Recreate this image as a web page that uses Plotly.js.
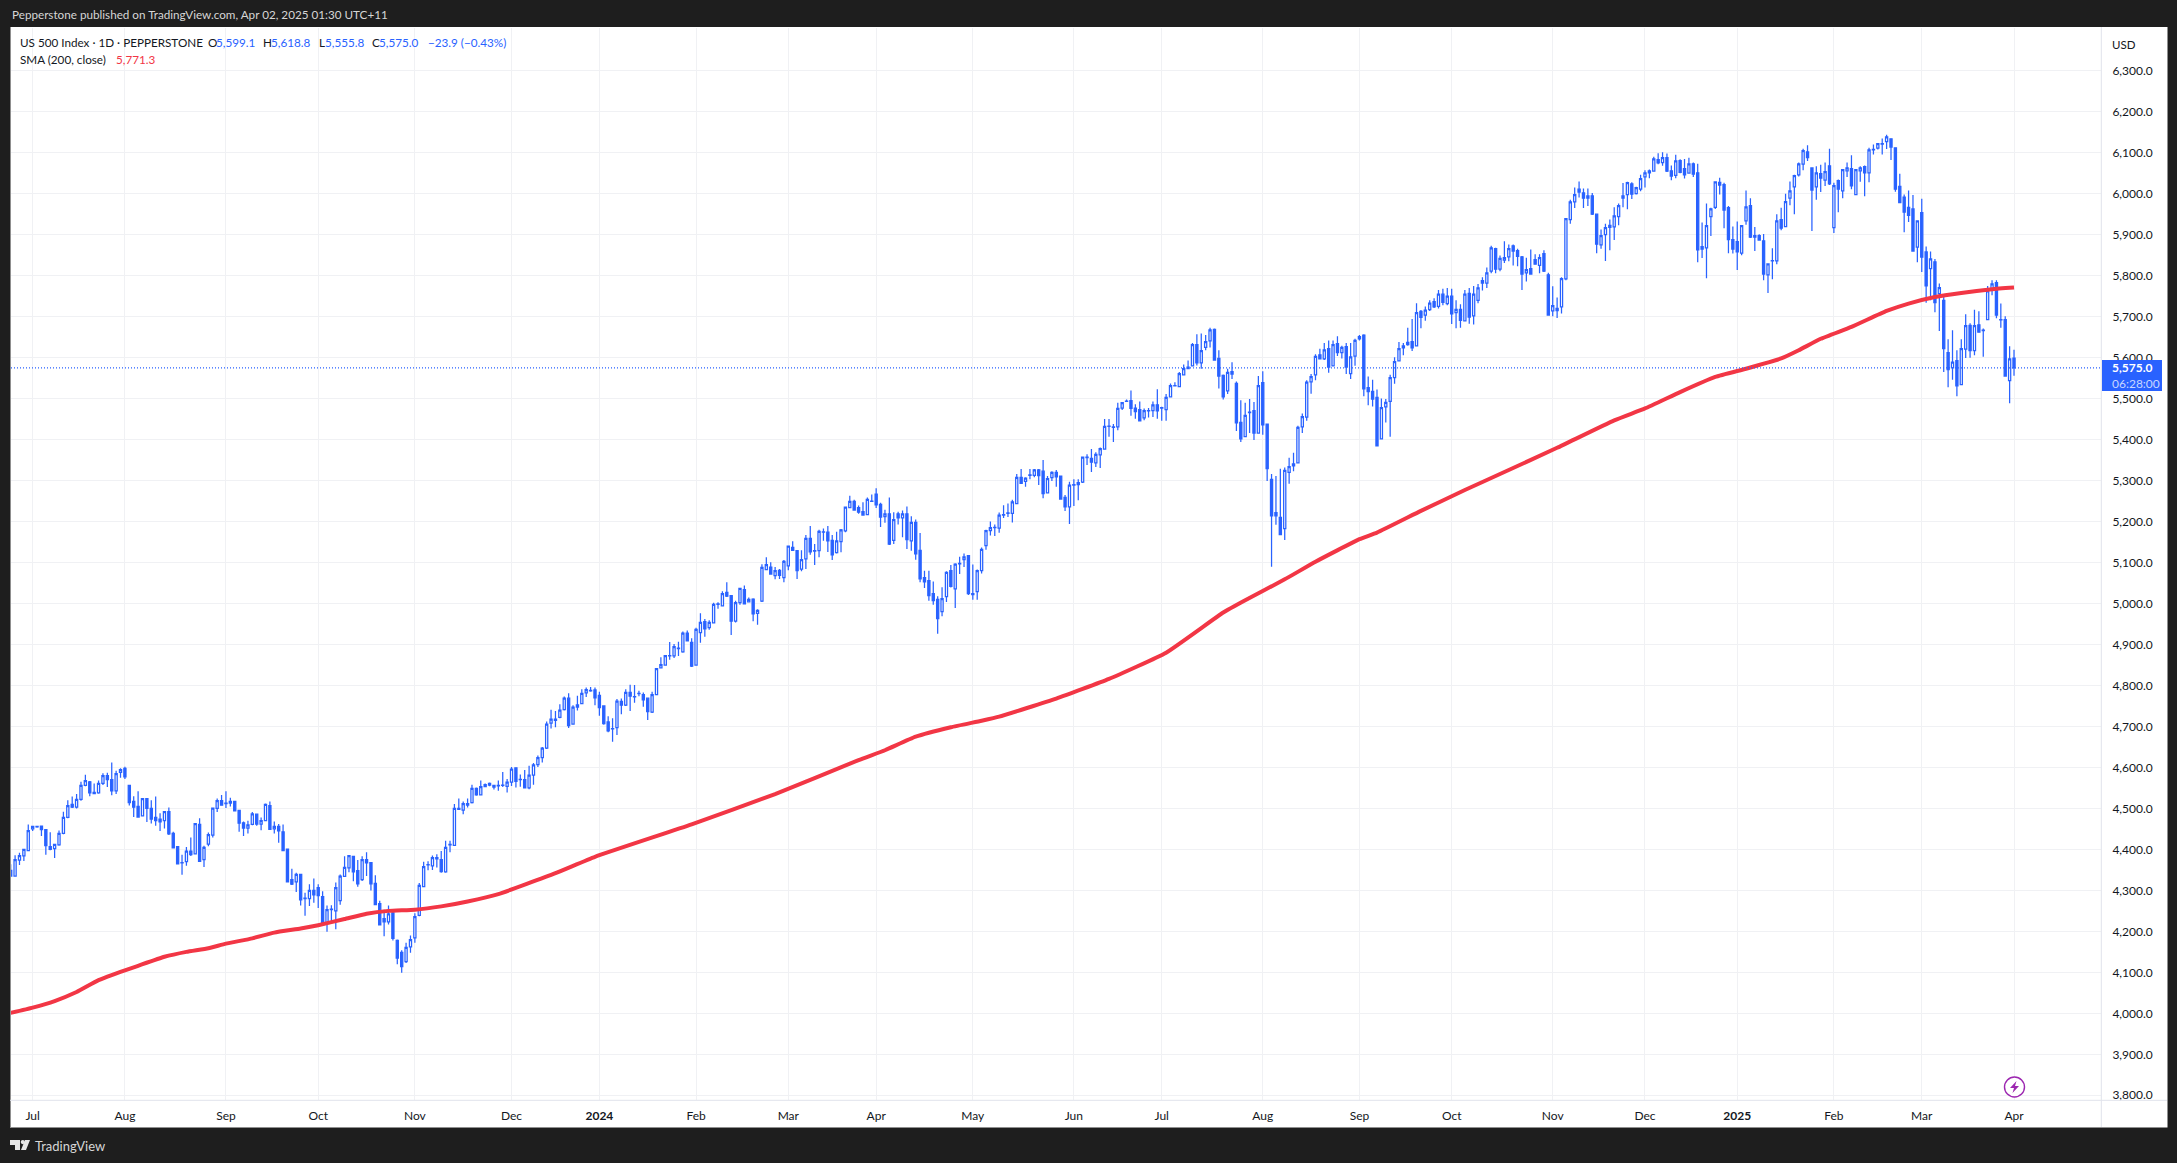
<!DOCTYPE html>
<html>
<head>
<meta charset="utf-8">
<script src="https://cdn.plot.ly/plotly-3.0.1.min.js"></script>
<style>html,body{margin:0;padding:0;background:#1e1e1e;overflow:hidden}#chart{width:2177px;height:1163px}</style>
</head>
<body>
<div id="chart"></div>
<script>
const opens = [4349,4335,4374,4384,4397,4450,4455,4457,4448,4407,
4402,4411,4439,4478,4510,4503,4522,4556,4565,4539,
4538,4561,4580,4570,4543,4588,4598,4556,4517,4505,
4482,4524,4500,4478,4474,4470,4492,4439,4407,4367,
4370,4396,4389,4461,4375,4413,4435,4500,4519,4512,
4517,4517,4495,4465,4452,4461,4486,4462,4470,4507,
4450,4456,4443,4401,4326,4321,4339,4280,4280,4300,
4307,4285,4221,4253,4250,4275,4334,4355,4383,4348,
4326,4375,4368,4317,4268,4231,4223,4245,4178,4149,
4126,4162,4184,4239,4309,4362,4360,4380,4375,4345,
4411,4410,4498,4496,4508,4514,4549,4533,4553,4561,
4556,4555,
4556,4554,4564,4599,4570,4570,4550,4581,4607,4624,4647,4708,4718,4722,4741,4769,4706,4747,
4756,4782,4787,4789,4776,4750,4711,4694,4697,4761,
4752,4783,4772,4780,4778,4769,4735,4778,4843,4850,
4872,4872,4890,4882,4928,4905,4850,4929,4956,4941,
4953,4998,4994,5027,5019,4957,5002,5034,5004,5011,
4976,5006,5083,5089,5068,5081,5063,5092,5137,5129,
5084,5109,5159,5128,5129,5174,5174,5154,5124,5151,
5177,5234,5249,5234,5224,5217,5249,5267,5242,5212,
5219,5154,5219,5209,5219,5153,5198,5130,5063,5056,
5024,5010,4980,5017,5080,5036,5097,5107,5117,5024,
5029,5080,5141,5178,5185,
5184,5216,5220,5220,5244,5308,5298,5313,5313,5326,
5323,5270,5307,5320,5311,5259,5236,5289,5290,5296,
5356,5354,5343,5363,5377,5432,5430,5431,5477,5493,
5495,5477,5473,5453,5470,5471,5485,5477,5473,5504,
5531,5529,5558,5573,5580,5632,5587,5625,5641,5669,
5598,5557,5519,5566,5537,5442,5407,5466,5471,5416,
5539,5438,5303,5222,5210,5183,5320,5336,5343,5431,
5455,5541,5558,5607,5597,5622,5580,5634,5612,5627,
5561,5604,5646,5655,5527,5518,5503,5402,5480,5493,
5551,5592,5624,5632,5639,5629,5713,5704,5717,5737,
5725,5755,5732,5750,5710,5718,5690,5757,5702,5740,
5788,5782,5811,5866,5816,5838,5846,5873,5861,5846,
5807,5817,5839,5825,5854,5802,5714,5720,5724,5792,
5937,5980,6011,6002,5989,5995,5950,5875,5900,5923,
5919,5944,5989,5998,6024,6000,6011,6041,6051,6055,
6083,6076,6088,6056,6045,6081,6061,6050,6073,6051,
5871,5868,5944,5967,6028,6022,5966,5888,5883,5855,
5934,5971,5898,5898,5885,5802,5836,5836,
5937,5920,5989,6017,6046,6072,6102,6063,6017,6049,
6033,6068,5917,6032,6007,6056,6061,5998,6056,6066,
6051,6107,6111,6121,6127,6134,6112,6018,5992,5967,
5963,5870,5954,5858,5817,5834,5756,5740,5612,5575,
5593,5534,5621,5679,5617,5680,5666,5693,5765,5783,
5692,5693,5544,5599];

const highs = [4364,4386,4392,4401,4461,4458,4458,4458,4450,4442,
4414,4446,4492,4520,4529,4535,4565,4582,4567,4561,
4568,4586,4587,4612,4592,4598,4602,4557,4530,4542,
4525,4525,4520,4529,4488,4493,4502,4443,4408,4387,
4406,4429,4464,4476,4409,4441,4502,4524,4533,4542,
4526,4518,4497,4468,4470,4491,4487,4478,4512,4517,
4468,4462,4461,4402,4353,4343,4340,4294,4315,4329,
4315,4298,4263,4264,4319,4339,4383,4386,4384,4374,
4383,4393,4369,4337,4275,4253,4263,4249,4180,4154,
4172,4190,4244,4318,4370,4371,4385,4388,4396,4421,
4421,4511,4524,4517,4524,4558,4551,4568,4561,4563,
4557,4568,
4589,4572,4601,4600,4583,4594,4604,4611,4629,4650,4712,4741,4738,4754,4773,4781,4752,4775,
4791,4795,4796,4795,4785,4751,4725,4720,4767,4768,
4791,4802,4801,4787,4783,4770,4785,4842,4869,4874,
4906,4901,4907,4932,4934,4915,4941,4976,4962,4959,
5002,5003,5030,5052,5021,5007,5038,5044,5015,5013,
4986,5096,5113,5101,5089,5084,5106,5141,5152,5130,
5130,5167,5189,5145,5180,5183,5189,5167,5175,5182,
5237,5263,5253,5239,5247,5259,5266,5281,5246,5229,
5259,5223,5224,5227,5237,5213,5205,5172,5080,5080,
5054,5018,5040,5079,5094,5098,5114,5122,5118,5095,
5083,5137,5180,5200,5193,
5222,5240,5244,5253,5316,5328,5308,5328,5328,5328,
5350,5311,5323,5326,5312,5265,5297,5303,5303,5359,
5364,5377,5369,5381,5450,5450,5438,5490,5492,5498,
5520,5486,5493,5476,5477,5493,5523,5480,5511,5537,
5540,5565,5583,5593,5636,5657,5659,5655,5673,5671,
5618,5559,5573,5589,5542,5496,5490,5499,5492,5555,
5567,5439,5316,5311,5329,5332,5356,5368,5434,5464,
5545,5560,5608,5622,5636,5642,5642,5652,5629,5636,
5636,5646,5655,5657,5554,5546,5522,5500,5499,5558,
5601,5638,5636,5673,5694,5733,5716,5725,5740,5745,
5765,5768,5770,5768,5740,5730,5765,5770,5775,5780,
5796,5820,5873,5868,5849,5884,5876,5876,5866,5848,
5844,5864,5852,5852,5862,5807,5774,5747,5796,5940,
5985,6015,6030,6013,6013,6002,5951,5913,5927,5937,
5967,5976,6026,6029,6028,6017,6046,6057,6059,6090,
6099,6101,6098,6069,6095,6084,6085,6088,6076,6073,
5930,5976,5966,6030,6039,6027,5970,5920,5932,5923,
6008,5989,5919,5901,5902,5830,5867,5950,
5966,6000,6030,6046,6076,6110,6118,6064,6067,6071,
6076,6110,6027,6035,6060,6076,6094,6060,6067,6069,
6112,6120,6124,6135,6144,6135,6113,6049,5998,6008,
5997,5935,5988,5871,5859,5841,5781,5748,5645,5667,
5618,5645,5706,5684,5717,5713,5671,5775,5789,5789,
5732,5701,5628,5619];

const lows = [4333,4333,4362,4372,4396,4445,4453,4433,4387,4398,
4379,4409,4437,4476,4501,4500,4519,4554,4530,4535,
4536,4557,4552,4532,4535,4575,4572,4507,4479,4477,
4481,4467,4463,4458,4445,4451,4435,4403,4364,4338,
4360,4384,4388,4370,4357,4408,4429,4491,4507,4501,
4505,4493,4443,4433,4439,4459,4458,4447,4469,4448,
4439,4416,4396,4320,4313,4296,4263,4238,4262,4270,
4257,4216,4199,4219,4205,4265,4333,4344,4322,4309,
4323,4335,4300,4264,4215,4188,4217,4178,4120,4099,
4123,4148,4172,4237,4308,4349,4350,4356,4343,4343,
4393,4409,4497,4486,4502,4512,4531,4532,4552,4554,
4546,4543,
4552,4539,4555,4551,4553,4549,4547,4558,4601,4612,4645,4695,4698,4720,4739,4696,4704,4739,
4754,4772,4785,4752,4726,4704,4686,4663,4679,4730,
4750,4738,4758,4774,4748,4716,4733,4777,4842,4848,
4863,4867,4872,4880,4908,4845,4849,4904,4919,4936,
4952,4987,4993,5016,4923,4954,4997,4998,5003,4957,
4948,5004,5082,5071,5059,5060,5052,5081,5128,5060,
5079,5084,5119,5094,5113,5153,5126,5106,5122,5125,
5174,5233,5227,5219,5215,5216,5248,5233,5187,5197,
5143,5145,5193,5162,5133,5129,5107,5052,5038,5007,
4997,4926,4969,5004,5039,4989,5072,5089,5021,5009,
5009,5073,5131,5166,5165,
5173,5209,5211,5198,5243,5292,5285,5303,5308,5289,
5257,5269,5299,5285,5254,5226,5194,5238,5252,5294,
5338,5321,5333,5331,5376,5407,5394,5423,5472,5492,
5458,5451,5445,5447,5454,5455,5451,5446,5446,5503,
5530,5528,5557,5572,5579,5581,5573,5618,5625,5593,
5525,5498,5511,5548,5421,5394,5406,5416,5399,5415,
5412,5299,5090,5192,5167,5155,5292,5323,5342,5416,
5446,5512,5545,5596,5594,5563,5579,5604,5598,5560,
5548,5580,5642,5506,5484,5481,5384,5400,5442,5407,
5536,5591,5606,5629,5616,5628,5672,5690,5714,5721,
5720,5728,5728,5682,5672,5673,5689,5683,5681,5733,
5764,5770,5806,5806,5811,5831,5835,5825,5823,5765,
5786,5802,5827,5806,5809,5703,5701,5697,5708,5789,
5927,5965,5991,5965,5970,5948,5855,5866,5836,5862,
5887,5923,5967,5962,5987,5998,6006,6015,6038,6054,
6072,6068,6053,6033,6038,6050,6037,6049,6041,5833,
5843,5794,5897,5963,5998,5916,5855,5854,5814,5850,
5924,5892,5860,5885,5789,5758,5791,5828,
5911,5919,5972,5950,6042,6057,6080,5909,5985,6004,
6019,6021,5904,5955,5989,6041,6011,5997,6029,5994,
6028,6096,6108,6096,6109,6082,6005,5977,5906,5931,
5859,5833,5809,5734,5740,5711,5665,5565,5528,5546,
5506,5533,5599,5600,5606,5661,5602,5692,5752,5696,
5673,5554,5489,5556];

const closes = [4335,4375,4385,4400,4446,4456,4456,4448,4409,4400,
4412,4439,4478,4507,4503,4522,4556,4568,4538,4536,
4561,4580,4570,4543,4585,4595,4577,4514,4503,4479,
4524,4500,4474,4470,4467,4492,4438,4404,4365,4368,
4396,4387,4463,4371,4405,4436,4501,4519,4508,4513,
4513,4494,4464,4452,4460,4487,4462,4470,4510,4449,
4456,4445,4397,4321,4315,4339,4277,4281,4300,4289,
4287,4222,4253,4254,4307,4335,4356,4385,4345,4316,
4375,4367,4316,4265,4216,4223,4243,4183,4135,4114,
4161,4180,4236,4312,4358,4363,4380,4377,4346,4405,
4412,4500,4500,4512,4512,4549,4533,4553,4558,4557,
4552,4556,
4557,4564,4596,4566,4571,4550,4581,4606,4624,4647,4706,4718,4715,4740,4769,4702,4747,4753,
4781,4790,4788,4770,4746,4707,4689,4695,4762,4752,
4783,4774,4773,4781,4765,4736,4778,4841,4851,4873,
4873,4895,4891,4928,4909,4847,4937,4954,4938,4954,
4998,4999,5024,5018,4957,5002,5037,4999,5010,4975,
4983,5088,5095,5072,5080,5069,5103,5140,5130,5080,
5107,5159,5126,5129,5176,5175,5153,5119,5153,5180,
5235,5249,5228,5223,5216,5254,5250,5241,5211,5219,
5145,5205,5209,5219,5156,5198,5121,5060,5053,5019,
5007,4963,5012,5076,5042,5096,5098,5114,5024,5022,
5080,5132,5178,5185,5186,
5216,5217,5221,5248,5308,5293,5306,5314,5326,5312,
5268,5305,5320,5309,5255,5236,5289,5290,5295,5357,
5357,5345,5364,5378,5432,5433,5431,5476,5490,5494,
5476,5468,5446,5471,5471,5485,5470,5478,5503,5532,
5532,5561,5573,5577,5632,5587,5617,5639,5668,5594,
5555,5504,5564,5560,5441,5402,5459,5467,5416,5532,
5436,5329,5214,5214,5168,5325,5334,5341,5430,5456,
5540,5554,5603,5597,5619,5577,5632,5612,5625,5577,
5602,5642,5651,5524,5517,5499,5385,5478,5491,5551,
5590,5622,5629,5637,5624,5710,5698,5716,5733,5724,
5755,5735,5750,5707,5718,5691,5755,5699,5755,5770,
5782,5807,5868,5816,5842,5844,5866,5860,5847,5804,
5815,5804,5828,5844,5811,5704,5727,5715,5793,5939,
5980,5998,6004,5989,5995,5950,5877,5898,5917,5918,
5946,5971,5995,6027,5999,6015,6037,6051,6056,6085,
6075,6088,6055,6043,6080,6052,6046,6073,6048,5863,
5865,5922,5963,6029,6021,5960,5888,5865,5858,5922,
5968,5894,5894,5887,5804,5829,5837,5934,
5916,5981,6007,6044,6073,6105,6088,6009,6051,6038,
6054,6024,6020,6011,6059,6063,6019,6059,6063,6051,
6107,6108,6122,6122,6139,6114,6011,5978,5955,5947,
5860,5934,5845,5775,5841,5734,5771,5622,5571,5589,
5531,5622,5678,5617,5678,5662,5667,5763,5780,5704,
5693,5555,5597,5575];

const smaBars = [0,5,10,15,20,26,29,35,40,45,49,55,60,66,70,76,81,86,92,98,104,111,124,133,155,174,193,199,206,214,221,225,238,250,263,276,281,290,297,307,311,321,331,339,352,365,372,380,388,395,403,407,412,419,427,432,438,444,451,456];
const smaValues = [4001,4014,4030,4052,4081,4105,4116,4138,4150,4159,4170,4183,4197,4207,4215,4230,4243,4250,4253,4261,4273,4291,4342,4382,4461,4535,4618,4642,4675,4698,4714,4724,4768,4816,4880,4978,5008,5059,5102,5157,5173,5226,5277,5316,5380,5447,5476,5516,5553,5573,5598,5618,5646,5675,5714,5732,5748,5758,5767,5771];

const monthBars = [5,26,49,70,92,114,134,156,177,197,219,242,262,285,307,328,351,372,393,415,435,456];
const monthLabels = ['Jul','Aug','Sep','Oct','Nov','Dec','<b>2024</b>','Feb','Mar','Apr','May','Jun','Jul','Aug','Sep','Oct','Nov','Dec','<b>2025</b>','Feb','Mar','Apr'];
const priceTicks = [3800,3900,4000,4100,4200,4300,4400,4500,4600,4700,4800,4900,5000,5100,5200,5300,5400,5500,5600,5700,5800,5900,6000,6100,6200,6300];

const W = 2177, H = 1163, L = 11, R = 2101, T = 28, B = 1100;
const px = v => (v - L) / (R - L);
const py = v => (B - v) / (B - T);
const BLUE = '#2962ff', RED = '#f23645', INK = '#131722', FONT = 'Lato, "Noto Sans", sans-serif';
const bars = opens.map((_, i) => i);
const last = closes.length - 1;

const traces = [
  { type: 'candlestick', x: bars, open: opens, high: highs, low: lows, close: closes,
    whiskerwidth: 0, hoverinfo: 'skip', showlegend: false,
    increasing: { line: { color: BLUE, width: 1.25 }, fillcolor: '#ffffff' },
    decreasing: { line: { color: BLUE, width: 1.25 }, fillcolor: BLUE } },
  { type: 'scatter', mode: 'lines', x: smaBars, y: smaValues, hoverinfo: 'skip', showlegend: false,
    line: { color: RED, width: 4, shape: 'spline', smoothing: 0.4 } }
];

const txt = (x, y, text, color, size, anchor, extra) => Object.assign({
  xref: 'paper', yref: 'paper', x: px(x), y: py(y), text, showarrow: false,
  xanchor: anchor || 'left', yanchor: 'middle',
  font: { family: FONT, size: size || 11.7, color: color || INK }
}, extra || {});

const annotations = [
  txt(10, 14, 'Pepperstone published on TradingView.com, Apr 02, 2025 01:30 UTC+11', '#d6d6d6', 11.7),
  txt(18, 42, 'US 500 Index · 1D · PEPPERSTONE'),
  txt(205.5, 42, 'O'), txt(214, 42, '5,599.1', BLUE),
  txt(261, 42, 'H'), txt(268.6, 42, '5,618.8', BLUE),
  txt(316.5, 42, 'L'), txt(322.6, 42, '5,555.8', BLUE),
  txt(370.4, 42, 'C'), txt(377.3, 42, '5,575.0', BLUE),
  txt(425.5, 42, '−23.9 (−0.43%)', BLUE),
  txt(18, 59, 'SMA (200, close)'),
  txt(113.7, 59, '5,771.3', RED),
  txt(2110, 45, 'USD', INK, 11.5),
  txt(2110, 368, '<b>5,575.0</b>', '#ffffff', 12),
  txt(2110, 383, '06:28:00', '#c7d6ff', 12),
  txt(33, 1146, 'TradingView', '#d6d6d6', 13)
];

const rect = (x0, y0, x1, y1, fill, layer) => ({ type: 'rect', xref: 'paper', yref: 'paper',
  x0: px(x0), x1: px(x1), y0: py(y0), y1: py(y1), fillcolor: fill, line: { width: 0 }, layer: layer || 'above' });
const seg = (x0, y0, x1, y1, color, layer) => ({ type: 'line', xref: 'paper', yref: 'paper',
  x0: px(x0), x1: px(x1), y0: py(y0), y1: py(y1), line: { color, width: 1 }, layer: layer || 'above' });
const poly = (pts, fill) => ({ type: 'path', xref: 'paper', yref: 'paper', fillcolor: fill, line: { width: 0 },
  path: 'M' + pts.map(p => px(p[0]) + ',' + py(p[1])).join('L') + 'Z' });

const shapes = [
  rect(10, 27, 2167, 1127, '#ffffff', 'below'),
  seg(10.5, 27, 10.5, 1127, '#8f8f8f'),
  seg(10, 1127.5, 2167, 1127.5, '#8f8f8f'),
  seg(2167.5, 27, 2167.5, 1127.5, '#8f8f8f'),
  seg(R + 0.3, 27, R + 0.3, 1127, '#e0e3eb'),
  seg(10, B + 0.3, 2167, B + 0.3, '#e0e3eb'),
  { type: 'line', xref: 'paper', yref: 'y', x0: 0, x1: 1, y0: closes[last], y1: closes[last],
    line: { color: BLUE, width: 1.3, dash: '1px,2px' } },
  rect(2102, 360, 2162, 391, BLUE),
  { type: 'circle', xref: 'paper', yref: 'paper', x0: px(2004.5), x1: px(2024.5), y0: py(1077), y1: py(1097),
    fillcolor: '#ffffff', line: { color: '#9c27b0', width: 1.4 } },
  poly([[2016.5, 1081], [2010, 1088], [2014, 1088], [2012.5, 1093], [2019, 1086], [2015, 1086]], '#9c27b0'),
  poly([[10, 1140], [20, 1140], [20, 1150], [15, 1150], [15, 1145], [10, 1145]], '#e6e6e6'),
  { type: 'circle', xref: 'paper', yref: 'paper', x0: px(20.7), x1: px(24.9), y0: py(1140), y1: py(1144.2),
    fillcolor: '#e6e6e6', line: { width: 0 } },
  poly([[25, 1140], [30, 1140], [26, 1150], [21, 1150]], '#e6e6e6')
];

const layout = {
  width: W, height: H,
  margin: { l: L, r: W - R, t: T, b: H - B, pad: 0 },
  paper_bgcolor: '#1e1e1e', plot_bgcolor: '#ffffff',
  showlegend: false, dragmode: false,
  xaxis: { type: 'linear', range: [0.07, 475.8], rangeslider: { visible: false },
    tickmode: 'array', tickvals: monthBars, ticktext: monthLabels, tickangle: 0,
    showgrid: true, gridcolor: '#f0f1f4', gridwidth: 1, zeroline: false, showline: false,
    ticks: 'outside', ticklen: 5, tickcolor: 'rgba(255,255,255,0)',
    tickfont: { family: FONT, size: 12, color: INK } },
  yaxis: { type: 'linear', side: 'right', range: [3788.5, 6404.4],
    tickmode: 'array', tickvals: priceTicks, tickformat: ',.1f',
    showgrid: true, gridcolor: '#f0f1f4', gridwidth: 1, zeroline: false, showline: false,
    ticks: 'outside', ticklen: 8, tickcolor: 'rgba(255,255,255,0)',
    tickfont: { family: FONT, size: 12, color: INK } },
  shapes, annotations
};

Plotly.newPlot('chart', traces, layout, { displayModeBar: false, staticPlot: true });
</script>
</body>
</html>
